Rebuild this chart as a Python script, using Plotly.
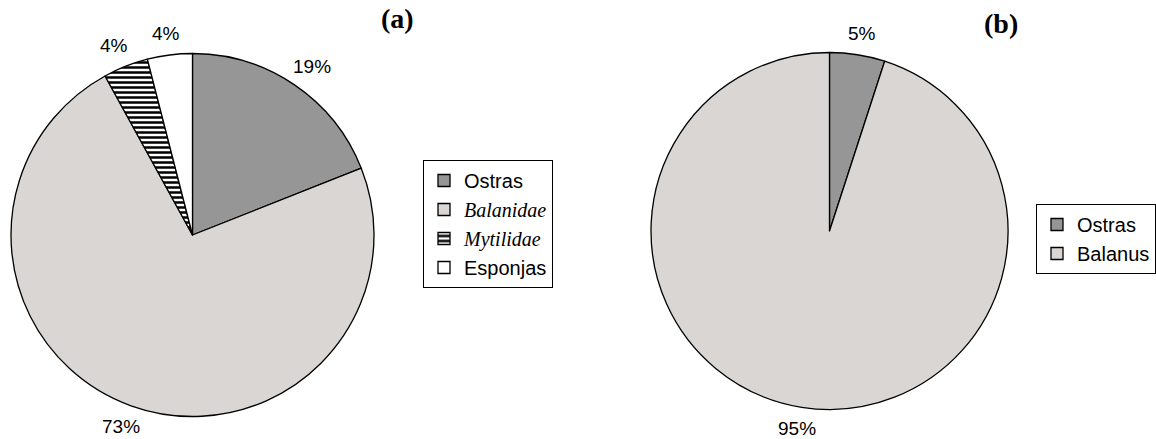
import math
import plotly.graph_objects as go

# Data
labels_a = ["Ostras",
            "<i><span style='font-family:Liberation Serif;font-size:20px'>Balanidae</span></i>",
            "<i><span style='font-family:Liberation Serif;font-size:20px'>Mytilidae</span></i>",
            "Esponjas"]
values_a = [19, 73, 4, 4]
colors_a = ["#969696", "#d9d6d3", "#ffffff", "#ffffff"]
patterns_a = ["", "", "-", ""]

labels_b = ["<span>Ostras</span>", "Balanus"]
values_b = [5, 95]
colors_b = ["#969696", "#d9d6d3"]

W, H = 1156, 439
dom_a = dict(x=[11 / W, 374 / W], y=[1 - 417 / H, 1 - 53 / H])
dom_b = dict(x=[651 / W, 1008 / W], y=[1 - 410 / H, 1 - 52 / H])

fig = go.Figure()

fig.add_trace(go.Pie(
    labels=labels_a, values=values_a, sort=False, direction="clockwise", rotation=0,
    marker=dict(colors=colors_a, line=dict(color="black", width=1.3),
                pattern=dict(shape=patterns_a, fgcolor="black", bgcolor="white", size=5, solidity=0.5)),
    textinfo="none", domain=dom_a, legend="legend", hoverinfo="label+percent",
))

fig.add_trace(go.Pie(
    labels=labels_b, values=values_b, sort=False, direction="clockwise", rotation=0,
    marker=dict(colors=colors_b, line=dict(color="black", width=1.3)),
    textinfo="none", domain=dom_b, legend="legend2", hoverinfo="label+percent",
))


def add_pct_labels(values, dom, kx=1.17, ky=1.12):
    # pie geometry from its domain (centre of domain, radius = half the smaller side)
    wpx = (dom["x"][1] - dom["x"][0]) * W
    hpx = (dom["y"][1] - dom["y"][0]) * H
    r = min(wpx, hpx) / 2
    cx = (dom["x"][0] + dom["x"][1]) / 2 * W
    cy = (1 - (dom["y"][0] + dom["y"][1]) / 2) * H
    total = sum(values)
    cum = 0
    for v in values:
        mid = (cum + v / 2) / total * 2 * math.pi
        cum += v
        x = cx + kx * r * math.sin(mid)
        y = cy - ky * r * math.cos(mid)
        fig.add_annotation(text=f"{round(100 * v / total)}%", x=x / W, y=1 - y / H,
                           xref="paper", yref="paper", showarrow=False,
                           xanchor="center", yanchor="middle",
                           font=dict(family="Liberation Sans", size=19, color="black"))


add_pct_labels(values_a, dom_a)
add_pct_labels(values_b, dom_b)

fig.add_annotation(text="<b>(a)</b>", x=397 / W, y=1 - 19 / H, xref="paper", yref="paper",
                   xanchor="center", yanchor="middle",
                   showarrow=False, font=dict(family="Liberation Serif", size=28, color="black"))
fig.add_annotation(text="<b>(b)</b>", x=1001 / W, y=1 - 23 / H, xref="paper", yref="paper",
                   xanchor="center", yanchor="middle",
                   showarrow=False, font=dict(family="Liberation Serif", size=28, color="black"))

fig.update_layout(
    width=W, height=H, margin=dict(l=0, r=0, t=0, b=0),
    paper_bgcolor="white", plot_bgcolor="white",
    font=dict(family="Liberation Sans", size=20, color="black"),
    legend=dict(x=423 / W, y=1 - 160 / H, xanchor="left", yanchor="top",
                bordercolor="black", borderwidth=1, bgcolor="white",
                itemwidth=30, font=dict(family="Liberation Sans", size=20)),
    legend2=dict(x=1.0, y=1 - 204 / H, xanchor="right", yanchor="top",
                 bordercolor="black", borderwidth=1, bgcolor="white",
                 itemwidth=30, font=dict(family="Liberation Sans", size=20)),
)

fig.write_html("out.html", config={"displayModeBar": False, "responsive": False},
               default_width="1156px", default_height="439px",
               post_script="document.body.style.margin='0';document.body.style.overflow='hidden';")
